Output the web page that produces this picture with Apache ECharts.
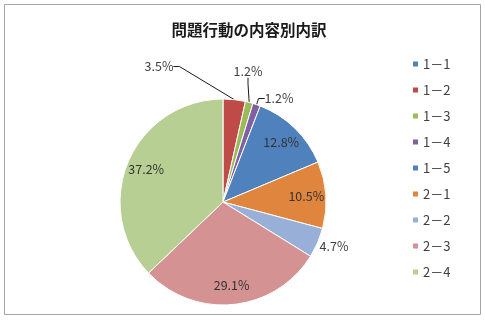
<!DOCTYPE html>
<html><head><meta charset="utf-8">
<script src="https://cdn.jsdelivr.net/npm/echarts@6/dist/echarts.min.js"></script>
<style>html,body{margin:0;padding:0;background:#fff}#c{width:485px;height:320px}</style>
</head><body><div id="c"></div>
<script>
const title = '問題行動の内容別内訳';
const categories = ['1－1','1－2','1－3','1－4','1－5','2－1','2－2','2－3','2－4'];
const values = [0, 3.5, 1.2, 1.2, 12.8, 10.5, 4.7, 29.1, 37.2];
const colors = ['#4F81BD','#BE4B48','#9BBB59','#7F60A0','#4F81BD','#E0853E','#98AFD8','#D49392','#B7CF93'];
// label placement style (not data)
const outsideLabelPos = {'1－2':[159,66.5], '1－3':[248,71.5], '1－4':[279,98.5], '2－2':[334,246.5]};
const hiddenLabels = ['1－1'];

const CX = 223, CY = 202, R = 103;
const font = '"Noto Sans CJK JP", "Noto Sans", sans-serif';
const fmt = p => p.value.toFixed(1) + '%';

const mainData = categories.map((n, i) => ({
  name: n, value: values[i],
  itemStyle: {color: colors[i]},
  label: {show: !!outsideLabelPos[n]},
  labelLine: {show: !!outsideLabelPos[n] && n !== '2－2'}
}));
const overlayData = categories.map((n, i) => ({
  name: n, value: values[i],
  label: {show: !outsideLabelPos[n] && hiddenLabels.indexOf(n) < 0}
}));

const chart = echarts.init(document.getElementById('c'), null, {renderer: 'canvas'});
chart.setOption({
  animation: false,
  backgroundColor: '#fff',
  title: {text: title, left: 244, top: 17, textAlign: 'center',
    textStyle: {fontFamily: font, fontSize: 15.5, fontWeight: 'bold', color: '#1a1a1a'}},
  legend: {
    orient: 'vertical', left: 406, top: 52, itemWidth: 7, itemHeight: 7, itemGap: 12,
    icon: 'rect', selectedMode: false,
    data: categories,
    textStyle: {fontFamily: font, fontSize: 13, color: '#404040', lineHeight: 14, padding: [0,0,0,-1]}
  },
  graphic: [{type: 'rect', shape: {x: 4.5, y: 4.5, width: 476, height: 310},
    style: {fill: 'none', stroke: '#A6A6A6', lineWidth: 1}, silent: true}],
  series: [{
    type: 'pie', center: [CX, CY], radius: R, startAngle: 90, clockwise: true,
    avoidLabelOverlap: false, silent: true,
    data: mainData,
    itemStyle: {borderColor: '#fff', borderWidth: 1},
    label: {position: 'outside', formatter: fmt, fontFamily: font, fontSize: 12.5, color: '#404040'},
    labelLine: {show: true, length: 10, length2: 6, lineStyle: {color: '#1a1a1a', width: 1}},
    labelLayout: function (params) {
      const n = categories[params.dataIndex];
      const p = outsideLabelPos[n];
      if (!p) return {};
      return {x: p[0], y: p[1], align: 'center', verticalAlign: 'middle'};
    }
  }, {
    type: 'pie', center: [CX, CY], radius: [58, R], startAngle: 90, clockwise: true,
    avoidLabelOverlap: false, silent: true, legendHoverLink: false,
    data: overlayData,
    itemStyle: {color: 'rgba(0,0,0,0)', borderWidth: 0},
    label: {position: 'inside', formatter: fmt, fontFamily: font, fontSize: 12.5, color: '#333'},
    labelLine: {show: false}
  }]
});
</script></body></html>
